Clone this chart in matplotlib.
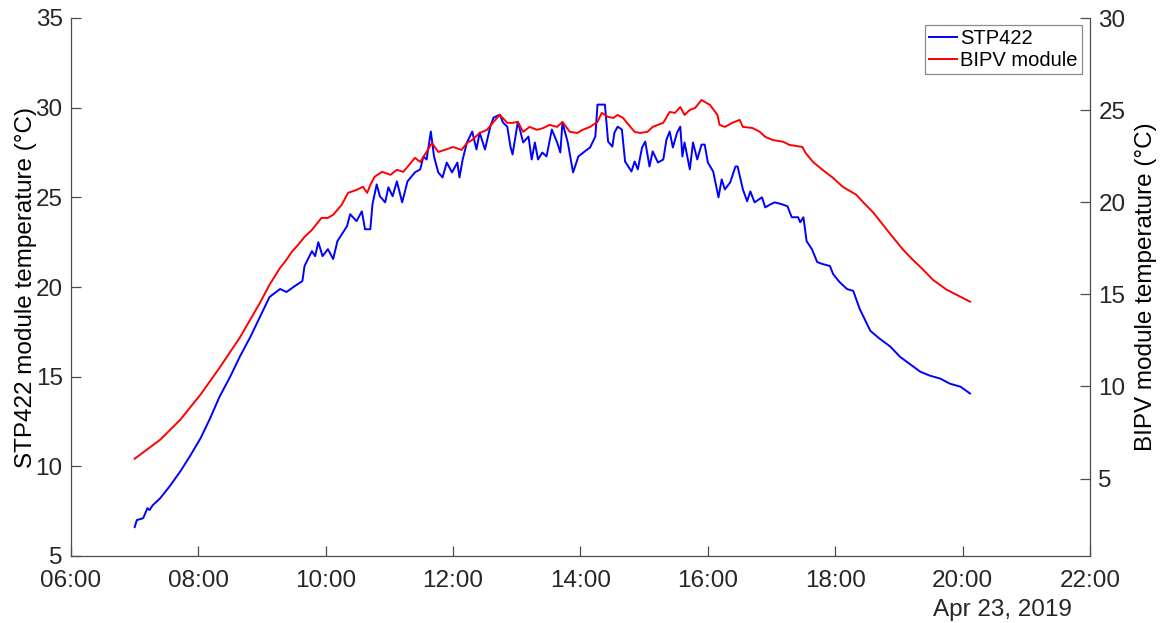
import matplotlib
matplotlib.use("Agg")
import matplotlib.pyplot as plt
import matplotlib.dates as mdates
import pandas as pd

plt.rcParams["font.family"] = ["Liberation Sans", "DejaVu Sans"]

dag = "2019-04-23 "

# STP422 (venstre akse)
stp_tider = ["07:00", "07:02", "07:08", "07:12", "07:14", "07:17", "07:24", "07:33", "07:43", "07:52",
             "08:02", "08:11", "08:20", "08:30", "08:39", "08:49", "08:58", "09:07", "09:17", "09:23",
             "09:31", "09:38", "09:40", "09:47", "09:50", "09:53", "09:57", "10:02", "10:07", "10:11",
             "10:20", "10:23", "10:29", "10:34", "10:37", "10:42", "10:44", "10:48", "10:51", "10:56",
             "10:59", "11:03", "11:07", "11:12", "11:17", "11:24", "11:29", "11:32", "11:35", "11:39",
             "11:42", "11:46", "11:50", "11:54", "11:59", "12:04", "12:06", "12:09", "12:13", "12:18",
             "12:22", "12:25", "12:30", "12:35", "12:38", "12:44", "12:47", "12:51", "12:54", "12:56",
             "13:01", "13:06", "13:11", "13:14", "13:17", "13:20", "13:24", "13:28", "13:33", "13:38",
             "13:41", "13:43", "13:48", "13:53", "13:58", "14:04", "14:09", "14:14", "14:16", "14:23",
             "14:26", "14:30", "14:32", "14:35", "14:39", "14:42", "14:48", "14:51", "14:54", "14:58",
             "15:01", "15:05", "15:08", "15:13", "15:18", "15:21", "15:24", "15:27", "15:31", "15:34",
             "15:36", "15:38", "15:43", "15:46", "15:50", "15:54", "15:57", "16:00", "16:05", "16:10",
             "16:13", "16:16", "16:21", "16:26", "16:28", "16:33", "16:37", "16:40", "16:44", "16:51",
             "16:54", "16:59", "17:03", "17:10", "17:15", "17:19", "17:25", "17:27", "17:30", "17:33",
             "17:38", "17:43", "17:48", "17:55", "17:58", "18:04", "18:11", "18:17", "18:23", "18:33",
             "18:42", "18:52", "19:01", "19:10", "19:20", "19:29", "19:39", "19:48", "19:58", "20:07"]
stp_temp = [6.61, 7.0, 7.11, 7.67, 7.56, 7.83, 8.22, 8.89, 9.72, 10.56,
            11.56, 12.67, 13.89, 15.0, 16.11, 17.22, 18.33, 19.44, 19.89, 19.72,
            20.06, 20.33, 21.17, 22.0, 21.72, 22.5, 21.72, 22.11, 21.56, 22.56,
            23.39, 24.06, 23.67, 24.22, 23.22, 23.22, 24.61, 25.72, 25.06, 24.72,
            25.56, 25.06, 25.89, 24.72, 25.89, 26.39, 26.56, 27.28, 27.11, 28.67,
            27.28, 26.39, 26.11, 26.94, 26.39, 26.94, 26.11, 27.11, 28.06, 28.67,
            27.67, 28.61, 27.67, 28.94, 29.44, 29.61, 29.17, 28.94, 27.83, 27.39,
            29.22, 28.06, 28.39, 27.11, 28.06, 27.11, 27.5, 27.28, 28.78, 28.06,
            27.5, 29.17, 28.06, 26.39, 27.28, 27.56, 27.78, 28.39, 30.17, 30.17,
            28.11, 27.83, 28.61, 28.94, 28.78, 27.0, 26.44, 27.0, 26.56, 27.78,
            28.11, 26.72, 27.56, 26.94, 27.11, 28.22, 28.67, 27.78, 28.61, 28.94,
            27.28, 28.06, 26.56, 28.06, 27.11, 27.94, 27.94, 26.94, 26.44, 25.0,
            26.0, 25.44, 25.83, 26.72, 26.72, 25.44, 24.78, 25.33, 24.72, 25.0,
            24.44, 24.61, 24.72, 24.61, 24.5, 23.89, 23.89, 23.61, 23.89, 22.56,
            22.11, 21.39, 21.28, 21.17, 20.72, 20.28, 19.89, 19.78, 18.78, 17.56,
            17.11, 16.67, 16.11, 15.72, 15.28, 15.06, 14.89, 14.61, 14.44, 14.06]

# BIPV modul (hoejre akse)
bipv_tider = ["07:00", "07:24", "07:43", "08:02", "08:20", "08:39", "08:58", "09:07", "09:17", "09:23",
              "09:28", "09:34", "09:40", "09:47", "09:53", "09:56", "10:02", "10:07", "10:15", "10:21",
              "10:29", "10:35", "10:39", "10:42", "10:46", "10:53", "11:01", "11:07", "11:13", "11:17",
              "11:24", "11:29", "11:35", "11:40", "11:46", "11:52", "12:00", "12:08", "12:13", "12:18",
              "12:25", "12:32", "12:38", "12:44", "12:51", "12:56", "13:01", "13:06", "13:12", "13:19",
              "13:25", "13:31", "13:38", "13:43", "13:50", "13:57", "14:02", "14:09", "14:16", "14:20",
              "14:26", "14:31", "14:35", "14:40", "14:47", "14:51", "14:56", "15:03", "15:08", "15:18",
              "15:24", "15:29", "15:34", "15:38", "15:43", "15:48", "15:54", "16:02", "16:09", "16:11",
              "16:16", "16:23", "16:30", "16:33", "16:42", "16:49", "16:54", "17:01", "17:11", "17:17",
              "17:29", "17:32", "17:39", "17:48", "17:58", "18:07", "18:20", "18:26", "18:36", "18:45",
              "18:54", "19:04", "19:13", "19:23", "19:32", "19:45", "19:58", "20:07"]
bipv_temp = [6.08, 7.11, 8.20, 9.56, 11.02, 12.65, 14.54, 15.52, 16.44, 16.88,
             17.31, 17.69, 18.12, 18.50, 18.94, 19.15, 19.15, 19.32, 19.86, 20.51,
             20.67, 20.84, 20.51, 20.94, 21.38, 21.65, 21.49, 21.76, 21.65, 21.92,
             22.41, 22.19, 22.73, 23.22, 22.73, 22.84, 23.0, 22.84, 23.22, 23.38,
             23.76, 23.93, 24.36, 24.74, 24.31, 24.31, 24.36, 23.82, 24.09, 23.93,
             24.03, 24.20, 24.09, 24.36, 23.82, 23.76, 23.93, 24.09, 24.36, 24.85,
             24.63, 24.58, 24.74, 24.58, 24.09, 23.82, 23.76, 23.82, 24.09, 24.31,
             24.90, 24.85, 25.17, 24.74, 25.01, 25.12, 25.55, 25.28, 24.74, 24.20,
             24.09, 24.31, 24.47, 24.09, 24.03, 23.82, 23.55, 23.38, 23.28, 23.11,
             23.0, 22.68, 22.19, 21.76, 21.32, 20.84, 20.40, 20.02, 19.43, 18.77,
             18.12, 17.42, 16.88, 16.33, 15.79, 15.25, 14.87, 14.60]

stp_t = pd.to_datetime([dag + t for t in stp_tider])
bipv_t = pd.to_datetime([dag + t for t in bipv_tider])

akse_farve = "#4d4d4d"
fs = 17.5

fig = plt.figure(figsize=(11.62, 6.23), dpi=100)
ax1 = fig.add_axes([71 / 1162, 1 - 556 / 623, (1090 - 71) / 1162, (556 - 18) / 623])
l1, = ax1.plot(stp_t, stp_temp, color="#0000ff", lw=1.4, label="STP422")
ax1.set_ylim(5, 35)
ax1.set_yticks(range(5, 36, 5))
ax1.set_ylabel("STP422 module temperature (°C)", fontsize=fs, labelpad=-1)

ax2 = ax1.twinx()
l2, = ax2.plot(bipv_t, bipv_temp, color="#ff0000", lw=1.4, label="BIPV module")
ax2.set_ylim(0.8, 30)
ax2.set_yticks(range(5, 31, 5))
ax2.set_ylabel("BIPV module temperature (°C)", fontsize=fs, labelpad=7)

ax1.set_xlim(pd.Timestamp(dag + "06:00"), pd.Timestamp(dag + "22:00"))
ax1.xaxis.set_major_locator(mdates.HourLocator(byhour=range(6, 23, 2)))
ax1.xaxis.set_major_formatter(mdates.DateFormatter("%H:%M"))

for ax in (ax1, ax2):
    ax.spines["top"].set_visible(False)
    for s in ax.spines.values():
        s.set_color(akse_farve)
        s.set_linewidth(0.9)
    ax.tick_params(direction="in", length=7, width=0.9, color=akse_farve,
                   labelsize=fs, labelcolor="#262626", pad=6)
ax1.tick_params(axis="x", pad=10)
ax1.spines["right"].set_visible(False)
ax2.spines["left"].set_visible(False)
ax2.spines["bottom"].set_visible(False)

ax1.text(0.982, -0.1, "Apr 23, 2019", transform=ax1.transAxes, ha="right",
         va="center", fontsize=fs, color="#262626")

leg = ax2.legend(handles=[l1, l2], loc="upper right", bbox_to_anchor=(0.992, 0.987),
                 borderaxespad=0, fontsize=14.5, fancybox=False, framealpha=1,
                 edgecolor="#8c8c8c", handlelength=1.4, handletextpad=0.15,
                 borderpad=0.2, labelspacing=0.15)
leg.get_frame().set_linewidth(0.9)

fig.savefig("out.png", dpi=100)
